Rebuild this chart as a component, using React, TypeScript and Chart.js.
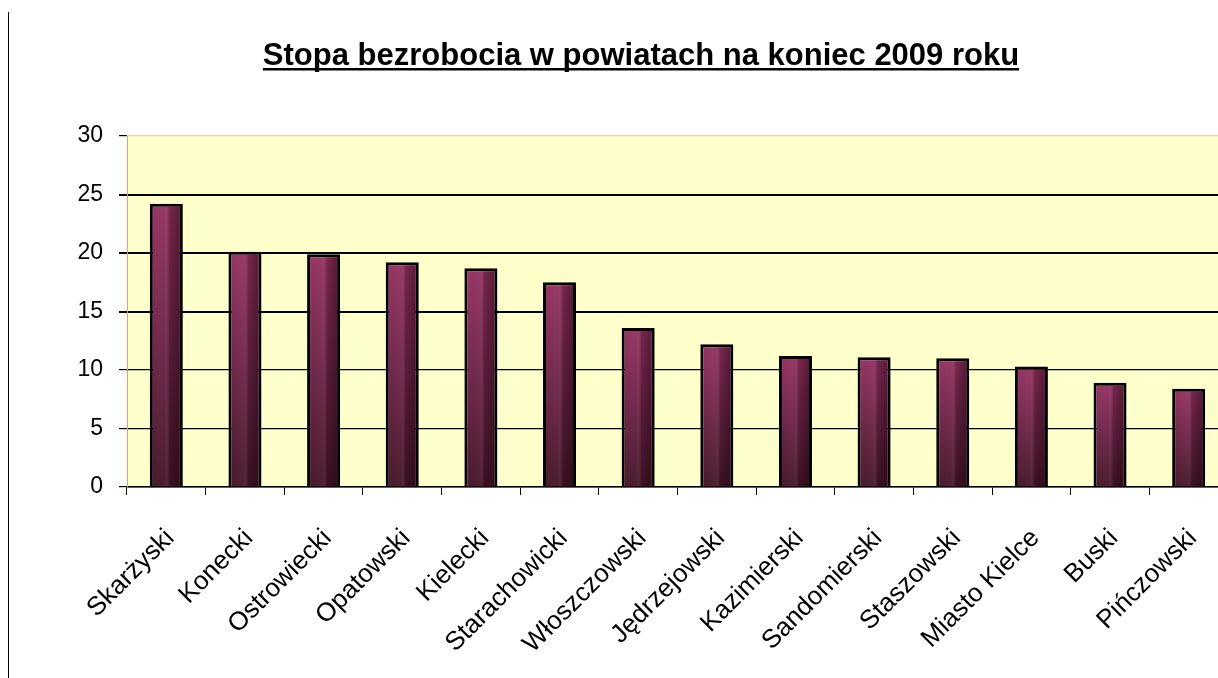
import React, { useEffect, useRef } from "react";
import { Chart, registerables } from "chart.js";

Chart.register(...registerables);

const TITLE = "Stopa bezrobocia w powiatach na koniec 2009 roku";

const categories: string[] = [
  "Skarżyski",
  "Konecki",
  "Ostrowiecki",
  "Opatowski",
  "Kielecki",
  "Starachowicki",
  "Włoszczowski",
  "Jędrzejowski",
  "Kazimierski",
  "Sandomierski",
  "Staszowski",
  "Miasto Kielce",
  "Buski",
  "Pińczowski",
];

const unemploymentRate: number[] = [
  24.2, 20.1, 19.9, 19.2, 18.7, 17.5, 13.6, 12.2, 11.2, 11.1, 11.0, 10.3, 8.9, 8.4,
];

const yTicks: number[] = [0, 5, 10, 15, 20, 25, 30];

const FONT = "'Liberation Sans', Arial, sans-serif";

const plotBackground = {
  id: "plotBackground",
  beforeDraw(chart: any) {
    const { ctx, chartArea } = chart;
    if (!chartArea) return;
    ctx.save();
    ctx.fillStyle = "#ffffcc";
    ctx.fillRect(chartArea.left, chartArea.top, chartArea.right - chartArea.left, chartArea.bottom - chartArea.top);
    ctx.restore();
  },
};

const barShading = {
  id: "barShading",
  afterDatasetsDraw(chart: any) {
    const { ctx } = chart;
    const meta = chart.getDatasetMeta(0);
    ctx.save();
    meta.data.forEach((el: any) => {
      const { x, y, base, width } = el.getProps(["x", "y", "base", "width"], true);
      const bw = 3;
      const left = x - width / 2 + bw;
      const right = x + width / 2 - bw;
      const top = y + bw;
      const bottom = base;
      if (right <= left || bottom <= top) return;
      const g = ctx.createLinearGradient(left, 0, right, 0);
      g.addColorStop(0, "rgba(255,255,255,0.02)");
      g.addColorStop(0.45, "rgba(255,255,255,0.04)");
      g.addColorStop(0.62, "rgba(20,0,10,0.22)");
      g.addColorStop(1, "rgba(20,0,10,0.45)");
      ctx.fillStyle = g;
      ctx.fillRect(left, top, right - left, bottom - top);
    });
    ctx.restore();
  },
};

const titlePlugin = {
  id: "underlinedTitle",
  afterDraw(chart: any) {
    const { ctx } = chart;
    ctx.save();
    ctx.font = `bold 31px ${FONT}`;
    ctx.fillStyle = "#000";
    ctx.textAlign = "center";
    ctx.textBaseline = "alphabetic";
    const cx = 641;
    const baseY = 65;
    ctx.fillText(TITLE, cx, baseY);
    const w = ctx.measureText(TITLE).width;
    ctx.fillRect(cx - w / 2, baseY + 3, w, 2.5);
    ctx.restore();
  },
};

export default function App() {
  const canvasRef = useRef<HTMLCanvasElement | null>(null);

  useEffect(() => {
    if (!canvasRef.current) return;
    const chart = new Chart(canvasRef.current, {
      type: "bar",
      data: {
        labels: categories,
        datasets: [
          {
            data: unemploymentRate,
            backgroundColor: (c: any) => {
              const ch = c.chart;
              const area = ch.chartArea;
              if (!area || c.raw == null) return "#6e2547";
              const yScale = ch.scales.y;
              const top = yScale.getPixelForValue(c.raw);
              const bottom = yScale.getPixelForValue(0);
              const g = ch.ctx.createLinearGradient(0, top, 0, bottom);
              g.addColorStop(0, "#953262");
              g.addColorStop(0.5, "#6c2447");
              g.addColorStop(1, "#451628");
              return g;
            },
            borderColor: "#000",
            borderWidth: 3,
            borderSkipped: "bottom",
            categoryPercentage: 1,
            barPercentage: 0.42,
          },
        ],
      },
      options: {
        animation: false,
        responsive: false,
        maintainAspectRatio: false,
        layout: { padding: { top: 136, left: 0, right: 0, bottom: 0 } },
        plugins: {
          legend: { display: false },
          title: { display: false },
          tooltip: { enabled: false },
        },
        scales: {
          x: {
            offset: true,
            grid: {
              display: true,
              offset: true,
              drawOnChartArea: false,
              drawTicks: true,
              tickLength: 8,
              tickColor: "#000",
              color: "#000",
            },
            border: { display: true, color: "#000", width: 1.5 },
            ticks: {
              color: "#000",
              font: { family: FONT, size: 26 },
              minRotation: 45,
              maxRotation: 45,
              autoSkip: false,
              padding: 28,
              labelOffset: 4,
            },
            afterFit(scale: any) {
              scale.height = 191;
              scale.paddingLeft = 0;
              scale.paddingRight = 0;
            },
          },
          y: {
            min: 0,
            max: 30,
            afterBuildTicks(scale: any) {
              scale.ticks = yTicks.map((v) => ({ value: v }));
            },
            grid: {
              color: (c: any) => (c.tick && c.tick.value === 30 ? "#ffcc99" : "#000"),
              lineWidth: (c: any) => (c.tick && c.tick.value >= 15 && c.tick.value < 30 ? 2 : 1.2),
              tickColor: "#000",
              tickLength: 8,
              drawTicks: true,
            },
            border: { display: true, color: "#d9a46f", width: 1 },
            ticks: {
              color: "#000",
              font: { family: FONT, size: 23 },
              padding: 16,
            },
            afterFit(scale: any) {
              scale.width = 127;
            },
          },
        },
      },
      plugins: [plotBackground, barShading, titlePlugin],
    });
    return () => chart.destroy();
  }, []);

  return (
    <div
      style={{
        position: "absolute",
        left: 0,
        top: 0,
        width: 1218,
        height: 678,
        overflow: "hidden",
        background: "#fff",
      }}
    >
      <div style={{ position: "absolute", left: 8, top: 12, width: 1, height: 666, background: "#000" }} />
      <canvas ref={canvasRef} width={1228} height={678} style={{ display: "block" }} />
    </div>
  );
}
